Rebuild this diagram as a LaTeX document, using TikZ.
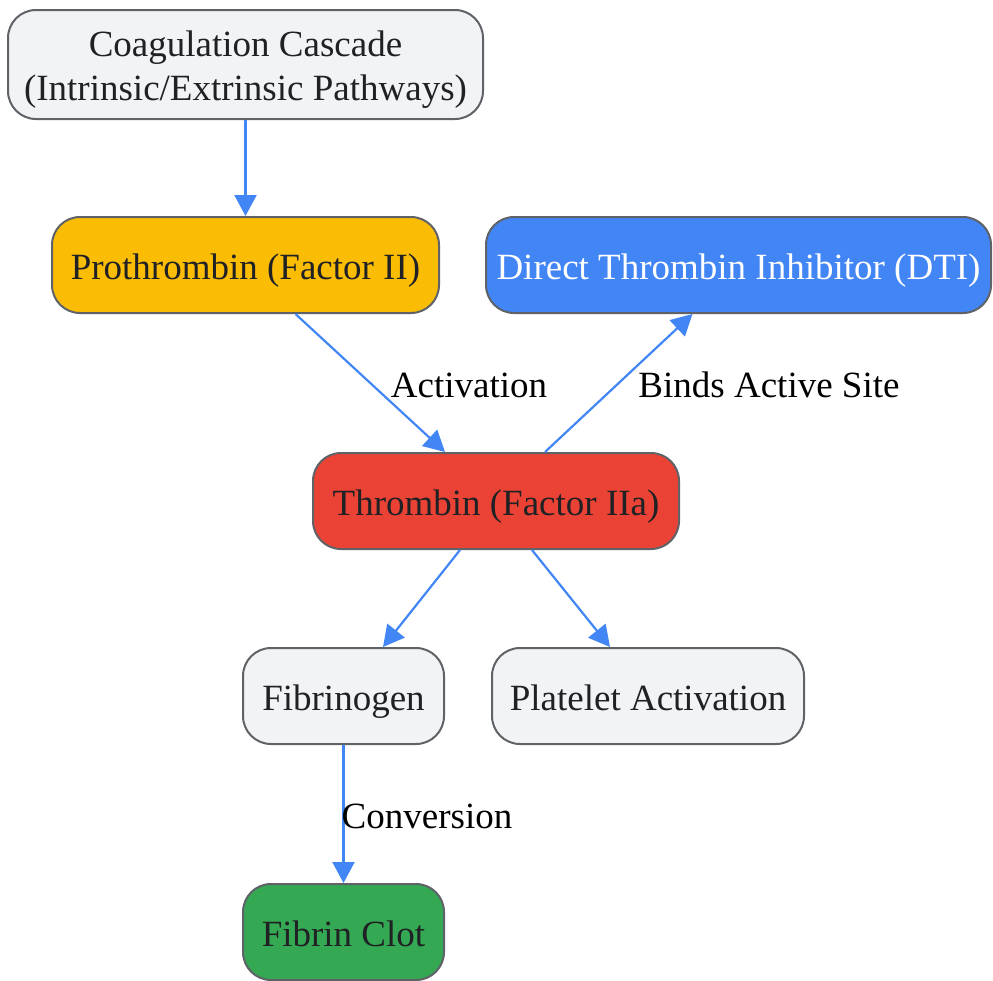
\documentclass[tikz,border=0pt]{standalone}
\usepackage{fontspec}
\setmainfont{Liberation Serif}
\usetikzlibrary{arrows.meta}
\definecolor{gfill}{HTML}{F1F3F4}
\definecolor{gborder}{HTML}{5F6368}
\definecolor{gtext}{HTML}{202124}
\definecolor{gyellow}{HTML}{FBBC04}
\definecolor{gblue}{HTML}{4285F4}
\definecolor{gred}{HTML}{EA4335}
\definecolor{ggreen}{HTML}{34A853}
\tikzset{
  box/.style={draw=gborder, line width=2pt, rounded corners=28pt, fill=gfill,
    text=gtext, inner sep=0pt,
    font=\fontsize{37}{44}\selectfont},
  oneline/.style={text height=30pt, text depth=2pt},
  conn/.style={draw=gblue, line width=2.2pt, -{Triangle[length=21pt,width=22pt]}},
  lbl/.style={font=\fontsize{37}{44}\selectfont, text=black, inner sep=0pt}
}
\begin{document}
\begin{tikzpicture}[x=1pt,y=-1pt]
\useasboundingbox (0,0) rectangle (993,980);
\node[box, minimum width=475pt, minimum height=109pt] (coag) at (245.5,64.5)
  {\raisebox{-5pt}[\height][\depth]{\begin{tabular}{@{}c@{}}Coagulation Cascade\\(Intrinsic/Extrinsic Pathways)\end{tabular}}};
\node[box, oneline, fill=gyellow, minimum width=387pt, minimum height=96pt] (pro) at (245.5,265)
  {Prothrombin (Factor II)};
\node[box, oneline, fill=gblue, text=white, minimum width=505pt, minimum height=96pt] (dti) at (738.5,265)
  {Direct Thrombin Inhibitor (DTI)};
\node[box, oneline, fill=gred, minimum width=366pt, minimum height=96pt] (thr) at (496,501)
  {Thrombin (Factor IIa)};
\node[box, oneline, minimum width=201pt, minimum height=96pt] (fib) at (343.5,696)
  {Fibrinogen};
\node[box, oneline, minimum width=312pt, minimum height=96pt] (plt) at (648,696)
  {Platelet Activation};
\node[box, oneline, fill=ggreen, minimum width=201pt, minimum height=96pt] (clot) at (343.5,932)
  {Fibrin Clot};

\draw[conn] (coag.south) -- (pro.north);
\draw[conn] ([xshift=50pt]pro.south) -- ([xshift=-51pt]thr.north);
\draw[conn] ([xshift=49pt]thr.north) -- ([xshift=-46pt]dti.south);
\draw[conn] ([xshift=-36pt]thr.south) -- ([xshift=39.5pt]fib.north);
\draw[conn] ([xshift=36pt]thr.south) -- ([xshift=-38pt]plt.north);
\draw[conn] (fib.south) -- (clot.north);

\node[lbl] (l1) at (469,385) {Activation};
\node[lbl] (l2) at (769,385) {Binds Active Site};
\node[lbl] (l3) at (427,816) {Conversion};
\end{tikzpicture}
\end{document}
